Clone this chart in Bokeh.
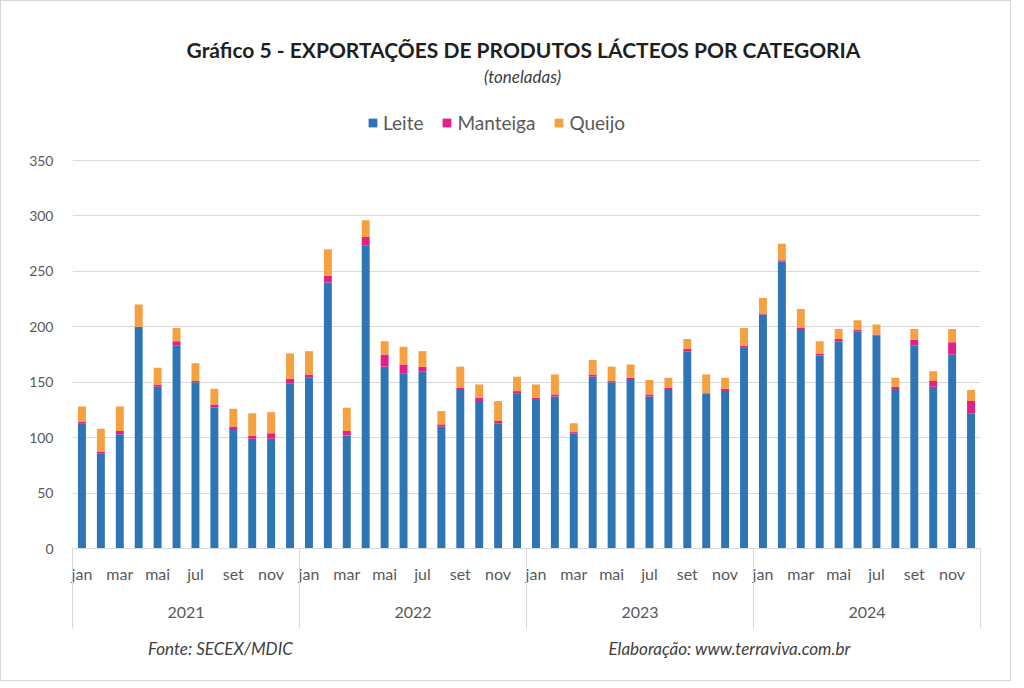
from bokeh.plotting import figure
from bokeh.models import (ColumnDataSource, Range1d, LinearAxis, FixedTicker,
                          Label, Legend, LegendItem)
from bokeh.embed import file_html
from bokeh.resources import INLINE

years = ["2021", "2022", "2023", "2024"]
months = ["jan", "fev", "mar", "abr", "mai", "jun", "jul", "ago", "set", "out", "nov", "dez"]
shown_months = ["jan", "mar", "mai", "jul", "set", "nov"]
y_ticks = [0, 50, 100, 150, 200, 250, 300, 350]

leite = [113, 86, 103, 199, 146, 183, 150, 127, 107, 99, 99, 149,
         154, 240, 102, 273, 164, 158, 160, 110, 143, 133, 113, 140,
         134, 137, 104, 155, 150, 152, 137, 143, 178, 140, 142, 181,
         211, 259, 198, 174, 187, 196, 192, 143, 183, 146, 175, 122]
manteiga = [1, 1, 3, 1, 2, 4, 1, 3, 3, 3, 5, 4,
            3, 6, 4, 8, 11, 8, 4, 2, 2, 3, 2, 2,
            2, 2, 1, 2, 1, 2, 2, 2, 2, 0, 2, 2,
            1, 1, 1, 2, 2, 1, 1, 3, 5, 5, 11, 11]
queijo = [14, 21, 22, 20, 15, 12, 16, 14, 16, 20, 19, 23,
          21, 24, 21, 15, 12, 16, 14, 12, 19, 12, 18, 13,
          12, 18, 8, 13, 13, 12, 13, 9, 9, 17, 10, 16,
          14, 15, 17, 11, 9, 9, 9, 8, 10, 9, 12, 10]

series = ["Leite", "Manteiga", "Queijo"]
colors = ["#2E75B6", "#E3208A", "#F5A142"]
title_text = "Gráfico 5 - EXPORTAÇÕES DE PRODUTOS LÁCTEOS POR CATEGORIA"
subtitle_text = "(toneladas)"
footer_notes = ["Fonte: SECEX/MDIC", "Elaboração: www.terraviva.com.br"]

FONT = "Lato"
GRAY = "#595959"
GRID = "#d9d9d9"

n = len(leite)
nm = len(months)
xpos = [i + 0.5 for i in range(n)]
src = ColumnDataSource(dict(x=xpos, Leite=leite, Manteiga=manteiga, Queijo=queijo))

# frame spans from the top of the chart down to the zero line; the value
# axis 0..350 occupies the lower 388 px of the 537 px tall frame
frame_h, value_h = 537, 388
y_top = y_ticks[-1] * frame_h / value_h

p = figure(x_range=Range1d(0, n), y_range=Range1d(0, y_top), width=1011, height=681,
           output_backend="svg", toolbar_location=None, x_axis_location=None,
           min_border_left=71, min_border_right=32, min_border_top=10, min_border_bottom=134)
p.styles = {"border": "1px solid #d6d6d6"}
p.outline_line_color = None
p.background_fill_color = "white"
p.border_fill_color = "white"

rs = p.vbar_stack(series, x="x", width=0.42, fill_color=colors, line_color=None, source=src)

# grid / y axis
yt = FixedTicker(ticks=y_ticks)
p.xgrid.grid_line_color = None
p.ygrid.ticker = yt
p.ygrid.grid_line_color = GRID
p.ygrid.grid_line_width = 1
p.yaxis.ticker = yt
p.yaxis.axis_line_color = None
p.yaxis.major_tick_line_color = None
p.yaxis.minor_tick_line_color = None
p.yaxis.major_label_text_font = FONT
p.yaxis.major_label_text_font_size = "14px"
p.yaxis.major_label_text_color = GRAY
p.yaxis.major_label_standoff = 13

# month axis
month_ticks = [xpos[i] for i in range(n) if months[i % nm] in shown_months]
month_axis = LinearAxis(ticker=FixedTicker(ticks=month_ticks),
                        major_label_overrides={xpos[i]: months[i % nm] for i in range(n)},
                        axis_line_color=GRID, major_tick_line_color=None, minor_tick_line_color=None,
                        major_label_text_font=FONT, major_label_text_font_size="16px",
                        major_label_text_color=GRAY, major_label_standoff=9)
p.add_layout(month_axis, "below")

# year axis
year_ticks = [nm * k + nm / 2 for k in range(len(years))]
year_axis = LinearAxis(ticker=FixedTicker(ticks=year_ticks),
                       major_label_overrides={t: y for t, y in zip(year_ticks, years)},
                       axis_line_color=None, major_tick_line_color=None, minor_tick_line_color=None,
                       major_label_text_font=FONT, major_label_text_font_size="16px",
                       major_label_text_color=GRAY, major_label_standoff=15)
p.add_layout(year_axis, "below")

# year separator lines (incl. edges) via ticks
sep_ticks = [nm * k for k in range(len(years) + 1)]
sep = LinearAxis(ticker=FixedTicker(ticks=sep_ticks),
                 major_label_overrides={t: "" for t in sep_ticks},
                 major_tick_in=72, major_tick_out=8,
                 major_tick_line_color=GRID, major_tick_line_width=1,
                 minor_tick_line_color=None, axis_line_color=None, major_label_standoff=0)
p.add_layout(sep, "below")

# footer notes as labels of a bottom axis
footer_ticks = [7.82, 34.73]
footer = LinearAxis(ticker=FixedTicker(ticks=footer_ticks),
                    major_label_overrides={t: s for t, s in zip(footer_ticks, footer_notes)},
                    axis_line_color=None, major_tick_line_color=None, minor_tick_line_color=None,
                    major_label_text_font=FONT, major_label_text_font_size="17px",
                    major_label_text_font_style="italic", major_label_text_color="#404040",
                    major_label_standoff=3)
p.add_layout(footer, "below")

# legend inside the (tall) frame, above the 350 gridline
legend = Legend(items=[LegendItem(label=s, renderers=[r]) for s, r in zip(series, rs)],
                orientation="horizontal", location=(295, 414),
                label_text_font=FONT, label_text_font_size="19px", label_text_color=GRAY,
                glyph_width=11, glyph_height=11, label_standoff=5, spacing=18, label_height=20,
                padding=0, margin=0, border_line_color=None, background_fill_alpha=0)
p.add_layout(legend, "center")

# titles
p.add_layout(Label(x=451, y=499, x_units="screen", y_units="screen", text=title_text,
                   text_font=FONT, text_font_style="bold", text_font_size="21px",
                   text_color="#1f1f1f", text_align="center", text_baseline="middle"))
p.add_layout(Label(x=450, y=472, x_units="screen", y_units="screen", text=subtitle_text,
                   text_font=FONT, text_font_style="italic", text_font_size="17px",
                   text_color="#404040", text_align="center", text_baseline="middle"))

open("out.html", "w").write(file_html(p, INLINE))
